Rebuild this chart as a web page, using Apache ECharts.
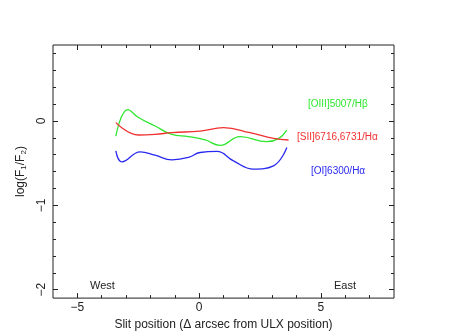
<!DOCTYPE html>
<html>
<head>
<meta charset="utf-8">
<script src="https://cdn.jsdelivr.net/npm/echarts@6/dist/echarts.min.js"></script>
<style>
  html, body { margin: 0; padding: 0; background: #fff; }
  #chart { width: 476px; height: 336px; }
</style>
</head>
<body>
<div id="chart"></div>
<script>
// slit positions (arcsec) and log flux ratios
const oiiiPos = [-3.42, -2.93, -2.49, -1.81, -1.12, -0.44, 0.25, 0.86, 1.68, 2.78, 3.26, 3.60];
const oiiiVal = [-0.18, 0.135, 0.04, -0.06, -0.16, -0.185, -0.225, -0.29, -0.185, -0.245, -0.21, -0.11];

const siiPos = [-3.42, -2.49, -1.81, -1.12, 0.04, 1.0, 2.09, 3.05, 3.67];
const siiVal = [-0.02, -0.167, -0.159, -0.139, -0.12, -0.08, -0.139, -0.206, -0.226];

const oiPos = [-3.42, -3.17, -2.42, -1.81, -1.12, -0.44, 0.04, 0.73, 1.41, 2.23, 3.05, 3.60];
const oiVal = [-0.355, -0.485, -0.367, -0.406, -0.461, -0.433, -0.374, -0.362, -0.473, -0.571, -0.532, -0.315];

const xMajor = [-5, 0, 5];
const xMinor = [-5, -4, -3, -2, -1, 0, 1, 2, 3, 4, 5, 6, 7];
const yMajor = [-2, -1, 0];
const yMinor = [-2, -1.8, -1.6, -1.4, -1.2, -1, -0.8, -0.6, -0.4, -0.2, 0, 0.2, 0.4, 0.6, 0.8];

const font = 'Liberation Sans, Arial, Helvetica, sans-serif';
const axisColor = '#222';
const green = '#2ee62e';
const red = '#f03030';
const blue = '#2828f0';

const fmt = v => String(v).replace('-', '\u2212');
const pairs = (xs, ys) => xs.map((x, i) => [x, ys[i]]);

const chart = echarts.init(document.getElementById('chart'));

const xBase = {
    type: 'value', min: -6, max: 8, splitLine: { show: false },
    axisLine: { show: false, onZero: false }
};
const yBase = {
    type: 'value', min: -2.1, max: 0.9, splitLine: { show: false },
    axisLine: { show: false, onZero: false }
};
const tick = (vals, len) => ({
    show: true, inside: true, length: len, customValues: vals,
    lineStyle: { color: axisColor, width: 1 }
});

const options = {
    animation: false,
    grid: {
        left: 53, right: 82, top: 45, bottom: 37,
        show: true, borderColor: axisColor, borderWidth: 1, backgroundColor: 'transparent'
    },
    xAxis: [
        Object.assign({}, xBase, {
            position: 'bottom',
            axisTick: tick(xMajor, 5),
            axisLabel: {
                customValues: xMajor, formatter: fmt, margin: 4,
                color: axisColor, fontSize: 12, fontFamily: font
            },
            name: 'Slit position (\u0394 arcsec from ULX position)',
            nameLocation: 'middle', nameGap: 18,
            nameTextStyle: { color: axisColor, fontSize: 12, fontFamily: font }
        }),
        Object.assign({}, xBase, { position: 'bottom', axisTick: tick(xMinor, 3), axisLabel: { show: false } }),
        Object.assign({}, xBase, { position: 'top', axisTick: tick(xMajor, 5), axisLabel: { show: false } }),
        Object.assign({}, xBase, { position: 'top', axisTick: tick(xMinor, 3), axisLabel: { show: false } })
    ],
    yAxis: [
        Object.assign({}, yBase, {
            position: 'left',
            axisTick: tick(yMajor, 5),
            axisLabel: {
                customValues: yMajor, formatter: fmt, rotate: 90, margin: 5,
                color: axisColor, fontSize: 12, fontFamily: font
            },
            name: 'log(F{s|1}/F{s|2})',
            nameLocation: 'middle', nameGap: 21, nameRotate: 90,
            nameTextStyle: {
                color: axisColor, fontSize: 12, fontFamily: font,
                rich: { s: { fontSize: 8, fontFamily: font, color: axisColor, verticalAlign: 'bottom', padding: [6, 0, 0, 0] } }
            }
        }),
        Object.assign({}, yBase, { position: 'left', axisTick: tick(yMinor, 3), axisLabel: { show: false } }),
        Object.assign({}, yBase, { position: 'right', axisTick: tick(yMajor, 5), axisLabel: { show: false } }),
        Object.assign({}, yBase, { position: 'right', axisTick: tick(yMinor, 3), axisLabel: { show: false } })
    ],
    series: [
        { name: '[OIII]5007/H\u03b2', type: 'line', data: pairs(oiiiPos, oiiiVal), smooth: 0.45,
          showSymbol: false, lineStyle: { color: green, width: 1.3 } },
        { name: '[SII]6716,6731/H\u03b1', type: 'line', data: pairs(siiPos, siiVal), smooth: 0.45,
          showSymbol: false, lineStyle: { color: red, width: 1.3 } },
        { name: '[OI]6300/H\u03b1', type: 'line', data: pairs(oiPos, oiVal), smooth: 0.45,
          showSymbol: false, lineStyle: { color: blue, width: 1.3 } }
    ],
    graphic: [
        { type: 'text', left: 308, top: 99, style: { text: '[OIII]5007/H\u03b2', fill: green, font: '10px ' + font } },
        { type: 'text', left: 297, top: 132, style: { text: '[SII]6716,6731/H\u03b1', fill: red, font: '10px ' + font } },
        { type: 'text', left: 311, top: 166, style: { text: '[OI]6300/H\u03b1', fill: blue, font: '10px ' + font } },
        { type: 'text', left: 90, top: 280, style: { text: 'West', fill: axisColor, font: '11px ' + font } },
        { type: 'text', left: 334, top: 280, style: { text: 'East', fill: axisColor, font: '11px ' + font } }
    ]
};

chart.setOption(options);
</script>
</body>
</html>
